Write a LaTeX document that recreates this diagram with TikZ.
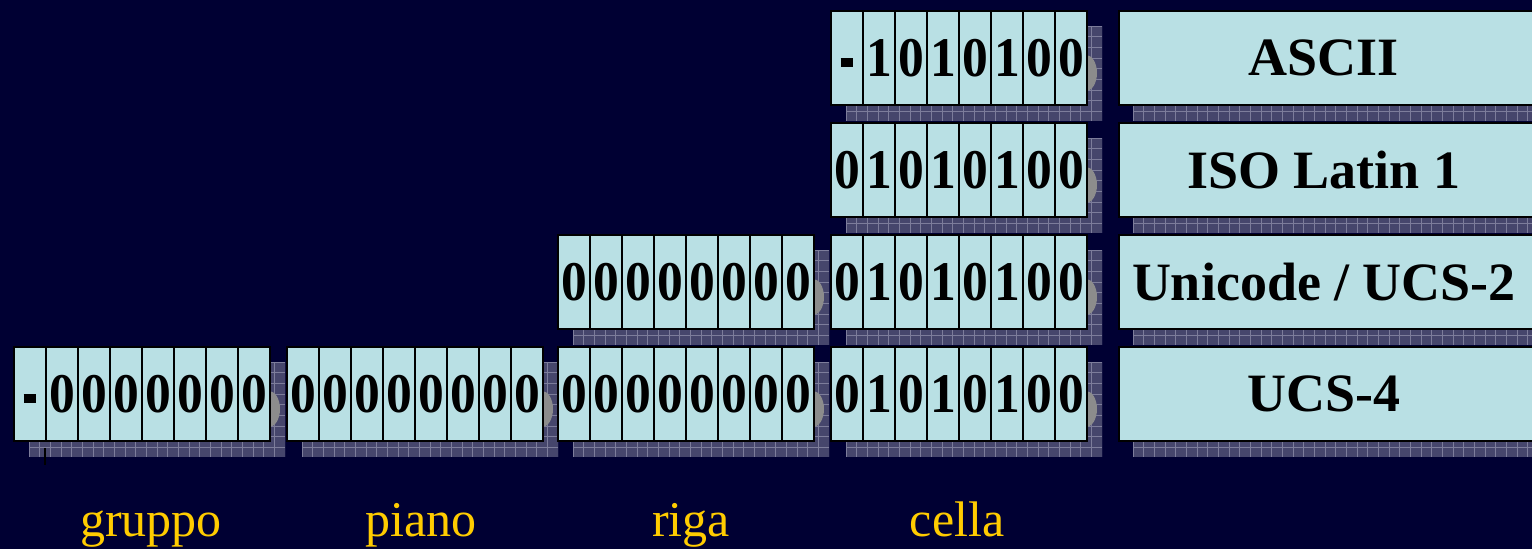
\documentclass[tikz,border=0pt]{standalone}
\usepackage{fontspec}
\usepackage{graphicx}
\setmainfont{Liberation Serif}
\definecolor{bgc}{RGB}{0,0,51}
\definecolor{cellc}{RGB}{185,224,228}
\definecolor{shadowc}{RGB}{70,70,108}
\definecolor{gridc}{RGB}{125,125,155}
\definecolor{crescc}{RGB}{140,140,140}
\definecolor{goldc}{RGB}{255,204,0}
\tikzset{
  cellbox/.style={draw=black, line width=1pt, fill=cellc, minimum width=16pt,
    minimum height=47pt, inner sep=0pt, anchor=north west,
    text height=18.5pt, text depth=0pt,
    font=\bfseries\fontsize{28}{28}\selectfont},
  namebox/.style={draw=black, line width=1pt, fill=cellc, minimum width=209pt,
    minimum height=47pt, inner sep=0pt, anchor=north west,
    font=\bfseries\fontsize{27}{28}\selectfont},
  caption/.style={text=goldc, anchor=base, inner sep=0pt,
    font=\fontsize{25}{26}\selectfont},
}
\newcommand\bardash{\rule[4.5pt]{7pt}{4.5pt}}
\newcommand\shadowrect[4]{%
  \fill[shadowc] (#1,#2) rectangle (#3,#4);
  \begin{scope}
    \clip (#1,#2) rectangle (#3,#4);
    \foreach \gx in {0,10.67,...,420} \draw[gridc, line width=0.35pt] ({#1+\gx},#2) -- ({#1+\gx},#4);
    \foreach \gy in {0,10.67,...,100} \draw[gridc, line width=0.35pt] (#1,{#2+\gy}) -- (#3,{#2+\gy});
  \end{scope}}
\newcommand\bytegrp[4]{%
  \shadowrect{#2+16}{#3+16}{#2+272}{#3+111}
  \fill[crescc] (#2+256,#3+63) ellipse[x radius=11, y radius=18];
  \foreach \d [count=\i from 0] in {#4}
    \node[cellbox] (#1-\i) at ({#2+32*\i},#3) {\scalebox{0.92}[1]{\d}};}
\newcommand\namerow[3]{%
  \shadowrect{1133}{#2+16}{1545}{#2+111}
  \node[namebox] (#1) at (1118,#2) {\hspace*{-4pt}#3};}
\begin{document}
\begin{tikzpicture}[x=0.5pt,y=-0.5pt]
\useasboundingbox (0,0) rectangle (1532,549);
\clip (0,0) rectangle (1532,549);
\fill[bgc] (0,0) rectangle (1532,549);
% row 1: ASCII
\bytegrp{aC}{830}{10}{\bardash,1,0,1,0,1,0,0}
\namerow{ascii}{10}{ASCII}
% row 2: ISO Latin 1
\bytegrp{iC}{830}{122}{0,1,0,1,0,1,0,0}
\namerow{latin}{122}{ISO Latin 1}
% row 3: UCS-2
\bytegrp{uR}{557}{234}{0,0,0,0,0,0,0,0}
\bytegrp{uC}{830}{234}{0,1,0,1,0,1,0,0}
\namerow{ucstwo}{234}{Unicode / UCS-2}
% row 4: UCS-4
\bytegrp{qG}{13}{346}{\bardash,0,0,0,0,0,0,0}
\bytegrp{qP}{286}{346}{0,0,0,0,0,0,0,0}
\bytegrp{qR}{557}{346}{0,0,0,0,0,0,0,0}
\bytegrp{qC}{830}{346}{0,1,0,1,0,1,0,0}
\namerow{ucsfour}{346}{UCS-4}
% small tick under the first group
\coordinate (tickA) at (45,448);
\coordinate (tickB) at (45,465);
\draw[black, line width=1pt] (tickA) -- (tickB);
% captions
\node[caption] (gruppo) at (151,537) {gruppo};
\node[caption] (piano) at (421,537) {piano};
\node[caption] (riga) at (691,537) {riga};
\node[caption] (cella) at (957,537) {cella};
\end{tikzpicture}
\end{document}
